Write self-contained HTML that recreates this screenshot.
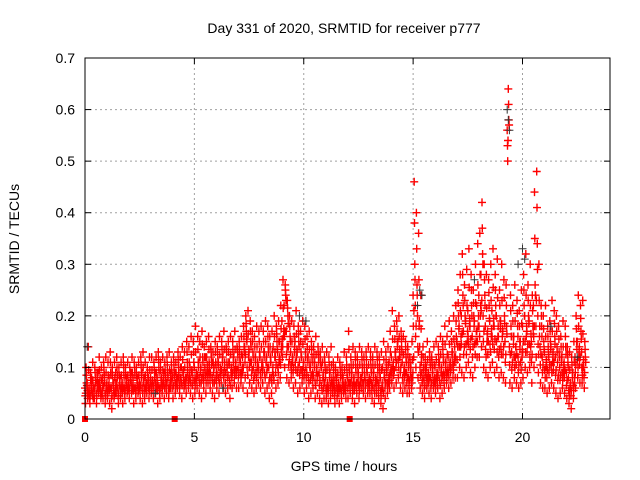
<!DOCTYPE html>
<html><head><meta charset="utf-8"><style>body{margin:0;background:#fff}svg{display:block;font-family:"Liberation Sans",sans-serif}</style></head>
<body>
<svg id="chart" width="640" height="480" viewBox="0 0 640 480">
<text x="344" y="33" font-size="14" text-anchor="middle">Day 331 of 2020, SRMTID for receiver p777</text>
<text x="0" y="0" font-size="14" text-anchor="middle" transform="translate(19,239) rotate(-90)">SRMTID / TECUs</text>
<text x="344" y="471" font-size="14" text-anchor="middle">GPS time / hours</text>
<g id="grid"></g>
<g id="marks"></g>
<rect x="85" y="58" width="525" height="361" fill="none" stroke="#000" stroke-width="1"/>
<g id="axes"></g>
</svg>
<script>
const xTicks=[0,5,10,15,20];
const yTicks=[0,0.1,0.2,0.3,0.4,0.5,0.6,0.7];
const yTickLabels=["0","0.1","0.2","0.3","0.4","0.5","0.6","0.7"];
const seriesMid=[6,7,5,8,6,7,9,6,8,7,7,8,6,7,9,6,8,7,6,8,7,9,8,6,8,7,9,8,7,8,8,7,9,8,6,8,9,7,8,9,8,9,7,8,10,9,8,9,10,9,10,9,11,10,9,12,10,9,11,10,9,11,10,12,9,10,11,10,12,11,10,11,12,14,15,13,11,10,12,11,12,11,13,12,10,11,14,12,13,15,19,22,17,14,13,12,15,13,11,12,11,10,12,10,9,11,10,9,10,8,8,7,9,7,6,8,7,6,8,7,8,7,9,8,7,9,8,7,8,9,8,7,9,8,7,8,10,8,9,11,12,11,13,15,12,11,10,9,8,10,24,22,20,14,9,8,10,9,8,9,10,9,11,10,9,11,12,11,13,14,15,18,20,17,19,21,18,16,19,22,24,28,20,18,17,19,21,18,20,16,19,17,15,56,14,13,16,14,12,15,18,20,17,19,15,22,24,20,14,12,13,11,12,14,13,12,11,10,12,11,9,8,7,9,12,15,14,13,10];
const seriesLow=[3,4,3,5,4,3,5,4,4,3,4,3,2,4,5,3,4,3,4,5,4,5,3,4,5,4,3,4,5,4,5,4,5,3,4,5,4,5,4,6,4,5,6,5,4,6,5,6,5,4,5,6,5,4,6,5,7,6,5,4,6,5,7,6,5,6,4,6,7,6,6,7,6,8,5,7,6,5,6,7,6,7,5,6,4,5,3,6,7,8,12,10,8,7,8,6,7,5,6,7,5,6,4,5,6,4,5,4,3,4,4,3,4,5,3,4,3,4,5,4,4,5,4,3,5,4,6,5,4,5,5,4,3,5,4,3,2,4,5,6,7,6,7,8,6,5,6,5,5,6,12,10,8,6,5,4,6,5,4,6,5,6,4,5,6,7,6,7,8,8,8,10,9,8,10,11,9,8,10,12,12,14,10,9,8,10,11,9,10,8,9,8,7,50,7,6,8,7,6,7,8,10,9,10,7,10,12,9,7,6,6,5,6,7,6,5,4,5,6,5,4,3,2,4,6,8,7,7,6];
const seriesHigh=[10,14,9,11,10,9,12,10,11,12,11,13,10,11,12,10,11,12,10,11,10,12,11,10,11,12,13,11,10,12,12,11,12,13,11,12,11,12,13,11,12,11,13,12,14,13,15,14,16,15,18,16,15,17,14,15,16,14,13,15,14,16,15,17,14,15,16,15,17,14,15,16,18,20,21,19,17,16,18,17,18,17,19,18,16,17,20,18,19,22,27,26,23,20,19,18,21,18,17,19,18,16,17,15,14,16,14,13,14,12,13,12,14,11,10,12,11,10,13,12,17,12,14,13,12,14,13,12,13,14,13,12,14,13,12,13,15,13,14,17,21,18,19,20,17,16,15,14,12,15,46,40,36,24,14,12,15,13,12,14,15,14,16,15,18,16,19,17,20,22,25,28,32,26,29,33,28,25,30,34,36,42,30,28,27,30,33,28,31,25,30,27,26,64,24,22,26,23,21,25,28,32,26,30,24,44,48,30,22,20,22,18,19,23,21,20,18,16,19,18,14,13,12,15,20,24,22,23,15];
const seriesAlt=[7,5,6,4,8,6,7,5,9,6,6,9,7,5,8,7,6,9,7,6,8,6,9,7,6,9,7,6,8,7,7,9,6,10,8,7,8,9,6,8,9,7,10,8,9,7,11,8,9,11,8,11,9,12,10,9,11,12,9,11,11,9,12,10,13,11,9,12,10,13,12,9,14,17,12,15,13,12,10,13,10,13,11,14,12,9,12,15,11,13,16,24,20,16,11,14,12,15,13,10,13,12,10,12,11,9,12,11,8,10,6,9,7,8,8,6,9,7,6,9,10,9,7,10,9,7,10,9,10,7,10,9,7,10,9,6,8,10,7,9,10,13,15,12,14,9,12,11,10,8,30,26,18,11,10,9,8,11,10,7,8,11,9,12,11,9,10,13,11,16,20,14,24,20,15,18,22,20,15,18,20,32,24,15,22,16,18,22,16,19,16,20,18,58,18,16,12,18,15,12,22,16,20,14,18,26,34,16,18,15,10,14,15,11,16,14,13,12,9,14,11,6,9,7,15,12,17,10,12];
const blackT=[0.1,3.2,6.3,9.8,10.1,15.2,15.3,15.4,17.8,19.3,19.35,19.4,19.8,20.0,20.1,21.3,22.5];
const blackV=[0.14,0.05,0.06,0.20,0.19,0.22,0.25,0.24,0.27,0.60,0.58,0.56,0.30,0.33,0.31,0.18,0.12];
const axisT=[0,4.1,12.1];
const sx=t=>85+t*(525/24);
const sy=v=>419-v*(361/0.7);
const NS="http://www.w3.org/2000/svg";
const grid=document.getElementById('grid'),axes=document.getElementById('axes'),marks=document.getElementById('marks');
function ln(p,x1,y1,x2,y2,st,dash){const l=document.createElementNS(NS,'line');l.setAttribute('x1',x1);l.setAttribute('y1',y1);l.setAttribute('x2',x2);l.setAttribute('y2',y2);l.setAttribute('stroke',st);if(dash)l.setAttribute('stroke-dasharray',dash);p.appendChild(l);return l;}
yTicks.forEach((v,i)=>{const y=sy(v);
 if(i>0&&i<yTicks.length-1){const g=ln(grid,85,y,610,y,'#a0a0a0','2,3');}
 ln(axes,85,y,91,y,'#000');ln(axes,604,y,610,y,'#000');
 const t=document.createElementNS(NS,'text');t.setAttribute('x',75);t.setAttribute('y',y+5);t.setAttribute('font-size','14');t.setAttribute('text-anchor','end');t.textContent=yTickLabels[i];
 
 
 axes.appendChild(t);});
xTicks.forEach(v=>{const x=sx(v);
 if(v>0){const g=ln(grid,x,58,x,419,'#a0a0a0','2,3');}
 ln(axes,x,419,x,413,'#000');ln(axes,x,58,x,64,'#000');
 const t=document.createElementNS(NS,'text');t.setAttribute('x',x);t.setAttribute('y',442);t.setAttribute('font-size','14');t.setAttribute('text-anchor','middle');t.textContent=String(v);
 
 
 axes.appendChild(t);});
let d='';
function plus(t,v){const x=sx(t),y=sy(v);return 'M'+(x-4).toFixed(1)+' '+y.toFixed(1)+'h8M'+x.toFixed(1)+' '+(y-4).toFixed(1)+'v8';}
[seriesMid,seriesLow,seriesHigh,seriesAlt].forEach((arr,k)=>{arr.forEach((v,i)=>{d+=plus(i*0.1+k*0.025,v/100);});});
// intermediate observations between neighbouring series values
seriesMid.forEach((v,i)=>{d+=plus(i*0.1+0.0125,(v+seriesLow[i])/200);d+=plus(i*0.1+0.0625,(seriesAlt[i]+seriesHigh[i])/200);d+=plus(i*0.1+0.0875,(v+seriesAlt[i])/200);d+=plus(i*0.1+0.0375,(seriesLow[i]+seriesAlt[i])/200);});
const pr=document.createElementNS(NS,'path');pr.setAttribute('d',d);pr.setAttribute('stroke','#ff0000');pr.setAttribute('stroke-width','1.4');pr.setAttribute('fill','none');


marks.appendChild(pr);
let db='';blackT.forEach((t,i)=>{db+=plus(t,blackV[i]);});
const pb=document.createElementNS(NS,'path');pb.setAttribute('d',db);pb.setAttribute('stroke','#333');pb.setAttribute('stroke-width','1');pb.setAttribute('fill','none');


marks.appendChild(pb);
axisT.forEach(t=>{const r=document.createElementNS(NS,'rect');r.setAttribute('x',sx(t)-3);r.setAttribute('y',sy(0)-3);r.setAttribute('width',6);r.setAttribute('height',6);r.setAttribute('fill','#ff0000');
 
 
 marks.appendChild(r);});
</script>
</body></html>
